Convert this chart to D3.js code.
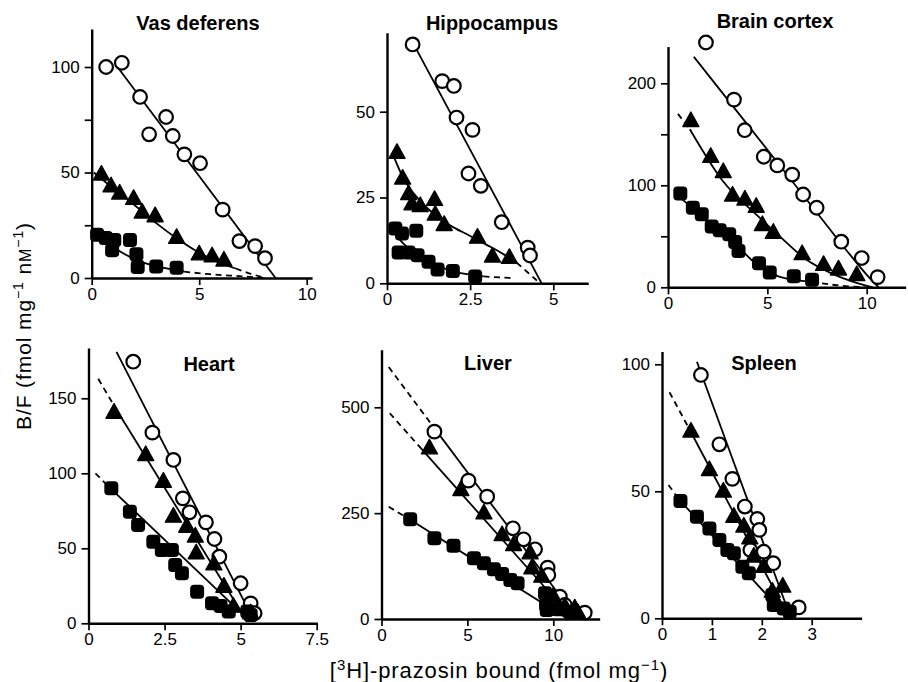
<!DOCTYPE html>
<html><head><meta charset="utf-8">
<script src="https://cdn.jsdelivr.net/npm/d3@7"></script>
<style>
body{margin:0;background:#fff}
svg{display:block}
text{font-family:"Liberation Sans",Arial,Helvetica,sans-serif}
</style>
</head><body>
<svg id="chart" width="908" height="682"></svg>
<script>
// ---------------- DATA ----------------
const titles = ["Vas deferens","Hippocampus","Brain cortex","Heart","Liver","Spleen"];

// Vas deferens
const vasCircles = [[0.67,100],[1.40,102],[2.25,85.8],[3.46,76.3],[2.67,68.1],[3.77,67.3],[4.31,58.6],[5.04,54.4],[6.09,32.4],[6.87,17.5],[7.60,15.1],[8.06,9.4]];
const vasTriangles = [[0.45,49],[0.9,43.5],[1.3,40],[1.95,37.5],[2.35,31],[2.95,29.3],[3.95,19],[5.0,11.2],[5.6,10.3],[6.15,8.3]];
const vasSquares = [[0.25,20.5],[0.65,19],[1.05,18],[0.95,13.2],[1.78,18],[2.08,11.2],[2.14,5.2],[3.0,5.5],[3.95,4.8]];
const vasSolid = [
  [[1.2,100],[8.55,0]],
  [[0.1,50],[1,42.5],[2,34.5],[3,26],[4,18.5],[5,12],[6,7],[6.7,4.5]],
  [[0.1,21],[0.8,16],[1.5,11.5],[2.2,8],[3,5.6],[4.3,3]]
];
const vasDashed = [
  [[6.7,4.5],[7.4,2],[8.1,0]],
  [[4.3,3],[5.5,1.8],[7,0.8],[8.1,0]]
];
const vasXTicks = [0,5,10], vasXLabels = [0,5,10];
const vasYTicks = [0,25,50,75,100], vasYLabels = [0,50,100];

// Hippocampus
const hipCircles = [[0.77,69.6],[1.66,58.9],[2.01,57.5],[2.09,48.3],[2.57,44.7],[2.45,32],[2.82,28.4],[3.45,17.8],[4.23,10.4],[4.3,8.1]];
const hipTriangles = [[0.3,38],[0.47,30.5],[0.65,26],[0.75,23],[1.0,22.5],[1.43,24.3],[1.45,20],[1.72,17],[2.72,13.3],[3.17,7.8],[3.68,7.4]];
const hipSquares = [[0.25,16],[0.45,14.5],[0.88,15.3],[0.35,9],[0.65,9],[0.92,8.2],[1.25,6.3],[1.52,4],[1.98,3.6],[2.65,2]];
const hipSolid = [
  [[0.7,71.5],[4.65,0]],
  [[0.2,37],[0.5,30.5],[1,24],[1.5,19.5],[2,16.3],[2.5,13.8],[3,11.2],[3.5,8.5],[3.9,6]],
  [[0.15,15.5],[0.5,11.5],[1,7.8],[1.5,5.2],[2,3.5],[2.5,2.5],[2.9,2]]
];
const hipDashed = [
  [[3.9,6],[4.25,3],[4.6,0]],
  [[2.9,2],[3.8,1.5]]
];
const hipXTicks = [0,2.5,5], hipXLabels = [0,2.5,5];
const hipYTicks = [0,25,50], hipYLabels = [0,25,50];

// Brain cortex
const brainCircles = [[1.91,240],[3.32,184],[3.86,154],[4.82,128],[5.5,119.5],[6.25,110.5],[6.8,91],[7.48,78],[8.72,44.7],[9.75,28.7],[10.55,10]];
const brainTriangles = [[1.15,163],[2.15,128],[2.78,113],[3.25,90],[3.87,86],[4.44,79],[4.75,61],[5.3,53.5],[6.75,32.5],[7.83,22],[8.58,17.5],[9.5,12]];
const brainSquares = [[0.62,92],[1.25,78],[1.7,71.5],[2.2,59.5],[2.6,56],[3.08,52],[3.38,44.5],[3.55,35.7],[4.58,23.5],[5.12,14.5],[6.33,10.8],[7.25,7.5]];
const brainSolid = [
  [[1.3,226],[5.4,125],[7.9,63],[9.2,31],[10.2,8],[10.6,0]],
  [[1.1,155],[2.73,105],[4.57,69],[5.65,49.5],[6.9,28],[8.23,13.7],[9.57,3.9],[10.3,0]],
  [[0.57,88.6],[1.57,72],[3.23,46],[4.4,23.5],[5.4,12],[6.4,7],[7.23,5.5]]
];
const brainDashed = [
  [[0.5,170],[1.1,155]],
  [[7.23,5.5],[8.5,2],[9.9,0]]
];
const brainXTicks = [0,5,10], brainXLabels = [0,5,10];
const brainYTicks = [0,50,100,150,200], brainYLabels = [0,100,200];

// Heart
const heartCircles = [[1.47,174.4],[2.10,127.1],[2.79,108.9],[3.10,83.3],[3.32,74],[3.86,67.3],[4.14,56.2],[4.30,44.4],[5.0,26.7],[5.33,13.3],[5.46,6.7]];
const heartTriangles = [[0.84,140.4],[1.88,112.2],[2.46,94.4],[2.79,71.1],[3.23,64.4],[3.51,57.8],[3.54,46.7],[4.12,39.3],[4.45,24.4],[4.76,11.1],[5.33,6.7]];
const heartSquares = [[0.75,90],[1.36,74.4],[1.63,65.6],[2.13,54.4],[2.41,48.9],[2.74,48.9],[2.85,38.9],[3.07,33.3],[3.57,21.1],[4.06,13.3],[4.34,11.6],[4.61,7.8],[5.22,7.8],[5.33,5.6]];
const heartSolid = [
  [[0.92,181],[5.46,1]],
  [[0.86,144.4],[5.22,1]],
  [[0.62,92],[5.28,2]]
];
const heartDashed = [
  [[0.32,163],[0.86,144.4]],
  [[0.23,100],[0.62,92]]
];
const heartXTicks = [0,2.5,5,7.5], heartXLabels = [0,2.5,5,7.5];
const heartYTicks = [0,50,100,150], heartYLabels = [0,50,100,150];

// Liver
const liverCircles = [[3.08,442.5],[5.06,326.8],[6.15,289],[7.65,214.2],[8.27,188.2],[8.94,164.6],[9.67,121.3],[9.71,103.9],[10.38,52.8],[10.67,33.1],[11.83,15]];
const liverTriangles = [[2.79,403],[4.62,304.7],[5.96,249.6],[7.02,198.4],[7.69,174.8],[8.65,155.1],[8.75,119.7],[9.33,100],[10.0,52.8],[10.67,29.1],[11.25,25.2],[11.44,13.4]];
const liverSquares = [[1.67,235.4],[3.08,190.6],[4.19,173.2],[5.38,143.3],[5.96,131.5],[6.54,117.3],[7.02,106.3],[7.5,92.1],[7.92,84.3],[9.52,60.6],[9.58,33.1],[9.62,21.3],[10.29,22.8],[10.96,17.3]];
const liverSolid = [
  [[3.0,455],[11.4,0]],
  [[2.3,403],[11.15,0]],
  [[1.7,234],[10.8,1]]
];
const liverDashed = [
  [[0.42,595],[3.0,455]],
  [[0.48,486],[2.3,403]],
  [[0.42,265],[1.7,234]]
];
const liverXTicks = [0,5,10], liverXLabels = [0,5,10];
const liverYTicks = [0,250,500], liverYLabels = [0,250,500];

// Spleen
const spleenCircles = [[0.78,95.8],[1.15,68.5],[1.41,54.9],[1.66,44],[1.91,39.1],[1.95,34.8],[1.77,26.9],[2.04,26.2],[2.23,21.7],[2.74,4.3]];
const spleenTriangles = [[0.58,73.5],[0.95,58.4],[1.23,49.9],[1.44,40],[1.64,36.1],[1.76,31.5],[1.84,24.3],[2.04,20.3],[2.21,10.5],[2.42,12.5],[2.30,5.9]];
const spleenSquares = [[0.37,46.2],[0.70,40],[0.95,35.4],[1.15,30.8],[1.31,26.9],[1.44,25.6],[1.61,20.3],[1.74,17.7],[2.21,9.2],[2.24,5.2],[2.44,3.9],[2.56,2.6]];
const spleenSolid = [
  [[0.7,101],[2.57,0.7]],
  [[0.52,75.5],[2.5,2]],
  [[0.35,46.6],[2.5,0.7]]
];
const spleenDashed = [
  [[0.15,89],[0.52,75.5]],
  [[0.13,52.5],[0.35,46.6]]
];
const spleenXTicks = [0,1,2,3], spleenXLabels = [0,1,2,3];
const spleenYTicks = [0,50,100], spleenYLabels = [0,50,100];

// ---------------- LAYOUT ----------------
const layout = [
  {x0:91.7, xRef:10, x1:306.7, xEnd:10.25, y0:278,   yRef:100, y1:67,    yTop:118, tx:198, ty:30},
  {x0:387,  xRef:5,  x1:553.3, xEnd:6.05,  y0:283.3, yRef:50,  y1:111.7, yTop:73,  tx:492, ty:30},
  {x0:668,  xRef:10, x1:866.7, xEnd:11.96, y0:287.3, yRef:200, y1:83.3,  yTop:236, tx:775, ty:28},
  {x0:88.5, xRef:7.5,x1:316.7, xEnd:7.52,  y0:623.3, yRef:150, y1:398.3, yTop:183.5,tx:209, ty:371},
  {x0:381.5,xRef:10, x1:553.3, xEnd:12.7,  y0:619,   yRef:500, y1:407.3, yTop:636, tx:488, ty:370},
  {x0:662,  xRef:3,  x1:811.7, xEnd:4.0,   y0:618.3, yRef:100, y1:364.3, yTop:105, tx:764, ty:370}
];

const panelData = [
  {c:vasCircles,t:vasTriangles,s:vasSquares,solid:vasSolid,dashed:vasDashed,xt:vasXTicks,xl:vasXLabels,yt:vasYTicks,yl:vasYLabels},
  {c:hipCircles,t:hipTriangles,s:hipSquares,solid:hipSolid,dashed:hipDashed,xt:hipXTicks,xl:hipXLabels,yt:hipYTicks,yl:hipYLabels},
  {c:brainCircles,t:brainTriangles,s:brainSquares,solid:brainSolid,dashed:brainDashed,xt:brainXTicks,xl:brainXLabels,yt:brainYTicks,yl:brainYLabels},
  {c:heartCircles,t:heartTriangles,s:heartSquares,solid:heartSolid,dashed:heartDashed,xt:heartXTicks,xl:heartXLabels,yt:heartYTicks,yl:heartYLabels},
  {c:liverCircles,t:liverTriangles,s:liverSquares,solid:liverSolid,dashed:liverDashed,xt:liverXTicks,xl:liverXLabels,yt:liverYTicks,yl:liverYLabels},
  {c:spleenCircles,t:spleenTriangles,s:spleenSquares,solid:spleenSolid,dashed:spleenDashed,xt:spleenXTicks,xl:spleenXLabels,yt:spleenYTicks,yl:spleenYLabels}
];

// ---------------- DRAW ----------------
const svg = d3.select("#chart");
svg.append("rect").attr("width",908).attr("height",682).attr("fill","#fff");
const FONT = '"Liberation Sans",Arial,Helvetica,sans-serif';

panelData.forEach((d,i) => {
  const L = layout[i];
  const xs = d3.scaleLinear().domain([0,L.xRef]).range([L.x0,L.x1]);
  const ys = d3.scaleLinear().domain([0,L.yRef]).range([L.y0,L.y1]);
  const xa = d3.scaleLinear().domain([0,L.xEnd]).range([xs(0),xs(L.xEnd)]);
  const ya = d3.scaleLinear().domain([0,L.yTop]).range([ys(0),ys(L.yTop)]);
  const g = svg.append("g");

  const line = d3.line().x(p=>xs(p[0])).y(p=>ys(p[1])).curve(d3.curveMonotoneX);
  g.selectAll(null).data(d.solid).join("path")
    .attr("d",line).attr("fill","none").attr("stroke","#000").attr("stroke-width",1.8);
  g.selectAll(null).data(d.dashed).join("path")
    .attr("d",line).attr("fill","none").attr("stroke","#000").attr("stroke-width",1.8)
    .attr("stroke-dasharray","6,4.5");

  const fmt = v => String(v);
  const yAxis = d3.axisLeft(ya).tickValues(d.yt).tickSize(7).tickSizeOuter(0).tickPadding(5)
    .tickFormat(v => d.yl.includes(v) ? fmt(v) : "");
  const xAxis = d3.axisBottom(xa).tickValues(d.xt).tickSize(7).tickSizeOuter(0).tickPadding(3)
    .tickFormat(v => d.xl.includes(v) ? fmt(v) : "");
  const gy = g.append("g").attr("transform",`translate(${xs(0)},0)`).call(yAxis);
  const gx = g.append("g").attr("transform",`translate(0,${ys(0)})`).call(xAxis);
  [gx,gy].forEach(a => {
    a.attr("font-family",FONT).attr("font-size",17);
    a.select(".domain").attr("stroke","#000").attr("stroke-width",2.4);
    a.selectAll(".tick line").attr("stroke","#000").attr("stroke-width",1.7);
    a.selectAll(".tick text").attr("fill","#000");
  });

  g.selectAll(null).data(d.c).join("circle")
    .attr("cx",p=>xs(p[0])).attr("cy",p=>ys(p[1])).attr("r",6.8)
    .attr("fill","#fff").attr("stroke","#000").attr("stroke-width",2.2);
  g.selectAll(null).data(d.t).join("path")
    .attr("transform",p=>`translate(${xs(p[0])},${ys(p[1])})`)
    .attr("d","M0,-9L8,5.5L-8,5.5Z")
    .attr("fill","#000").attr("stroke","#000").attr("stroke-width",1.4).attr("stroke-linejoin","round");
  g.selectAll(null).data(d.s).join("rect")
    .attr("x",p=>xs(p[0])-7).attr("y",p=>ys(p[1])-7).attr("width",14).attr("height",14)
    .attr("rx",4).attr("fill","#000");

  svg.append("text").attr("x",L.tx).attr("y",L.ty).attr("text-anchor","middle")
    .attr("font-size",20).attr("font-weight","bold").attr("fill","#000").text(titles[i]);
});

// y-axis label
const yl = svg.append("text").attr("transform","translate(31,326) rotate(-90)")
  .attr("text-anchor","middle").attr("font-size",21).attr("letter-spacing",0.9).attr("fill","#000");
yl.append("tspan").text("B/F (fmol mg");
yl.append("tspan").attr("dy",-8).attr("font-size",14).text("−1");
yl.append("tspan").attr("dy",8).text(" n");
yl.append("tspan").attr("font-size",16).text("M");
yl.append("tspan").attr("dy",-8).attr("font-size",14).text("−1");
yl.append("tspan").attr("dy",8).text(")");

// x-axis label
const xl = svg.append("text").attr("x",499).attr("y",678)
  .attr("text-anchor","middle").attr("font-size",22).attr("letter-spacing",0.9).attr("fill","#000");
xl.append("tspan").text("[");
xl.append("tspan").attr("dy",-8).attr("font-size",15).text("3");
xl.append("tspan").attr("dy",8).text("H]-prazosin bound (fmol mg");
xl.append("tspan").attr("dy",-8).attr("font-size",15).text("−1");
xl.append("tspan").attr("dy",8).text(")");
</script>
</body></html>
